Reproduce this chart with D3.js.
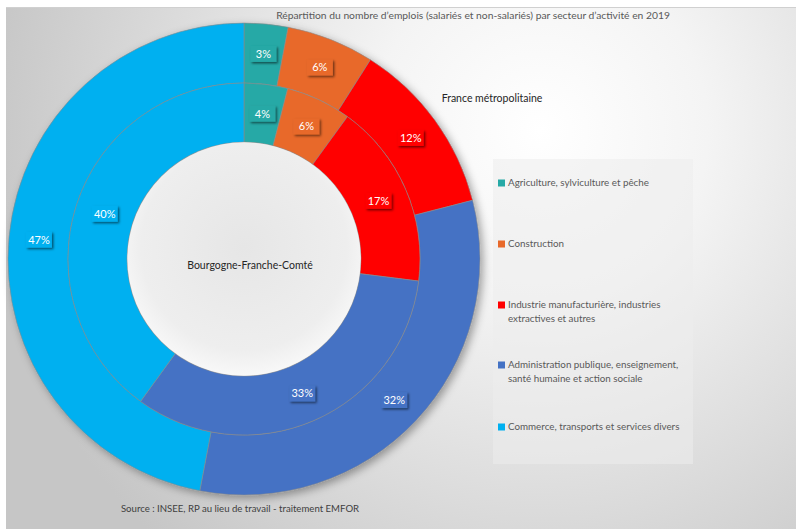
<!DOCTYPE html>
<html><head><meta charset="utf-8">
<script src="https://cdn.jsdelivr.net/npm/d3@7"></script>
<style>body{margin:0;background:#fff;}svg{display:block;font-family:Lato,"Noto Sans",sans-serif;}</style>
</head><body>
<svg id="c" width="796" height="529"></svg>
<script>
const categories = ["Agriculture, sylviculture et pêche","Construction","Industrie manufacturière, industries extractives  et autres","Administration publique, enseignement, santé humaine et action sociale","Commerce, transports et services divers"];
const legendLines = [["Agriculture, sylviculture et pêche"],["Construction"],["Industrie manufacturière, industries","extractives  et autres"],["Administration publique, enseignement,","santé humaine et action sociale"],["Commerce, transports et services divers"]];
const colors = ["#26A9A6","#E8692A","#FF0000","#4472C4","#00B0F0"];
const franceValues = [3,6,12,32,47];
const bfcValues = [4,6,17,33,40];
const title = "Répartition du nombre d\u2019emplois (salariés et non-salariés) par secteur d\u2019activité en 2019";
const outerName = "France métropolitaine";
const innerName = "Bourgogne-Franche-Comté";
const source = "Source : INSEE, RP au lieu de travail - traitement EMFOR";

const svg = d3.select("#c");
const defs = svg.append("defs");
const bg = defs.append("radialGradient").attr("id","bg").attr("gradientUnits","userSpaceOnUse")
  .attr("cx",540).attr("cy",130).attr("r",560);
bg.append("stop").attr("offset",0).attr("stop-color","#ffffff");
bg.append("stop").attr("offset",0.3).attr("stop-color","#f4f4f4");
bg.append("stop").attr("offset",1).attr("stop-color","#c6c6c6");
const hole = defs.append("radialGradient").attr("id","hole").attr("cx","50%").attr("cy","45%").attr("r","55%");
hole.append("stop").attr("offset",0).attr("stop-color","#e6e6e6");
hole.append("stop").attr("offset",0.8).attr("stop-color","#eeeeee");
hole.append("stop").attr("offset",1).attr("stop-color","#f8f8f8");
const sh = defs.append("filter").attr("id","sh").attr("x","-20%").attr("y","-20%").attr("width","140%").attr("height","140%");
sh.append("feDropShadow").attr("dx",3).attr("dy",3).attr("stdDeviation",4).attr("flood-color","#000").attr("flood-opacity",0.35);
const lsh = defs.append("filter").attr("id","lsh").attr("x","-30%").attr("y","-30%").attr("width","170%").attr("height","170%");
lsh.append("feDropShadow").attr("dx",1.5).attr("dy",1.5).attr("stdDeviation",0.8).attr("flood-color","#000").attr("flood-opacity",0.55);

svg.append("rect").attr("x",6).attr("y",7).attr("width",790).attr("height",522).attr("fill","url(#bg)");
svg.append("line").attr("x1",6).attr("x2",796).attr("y1",7.5).attr("y2",7.5).attr("stroke","#d0d0d0");

const cx = 244, cy = 259;
const rHole = 117, rMid = 176, rOut = 236;
const pie = d3.pie().sort(null).value(d=>d);
const g = svg.append("g").attr("transform",`translate(${cx},${cy})`);
const gr = g.append("g").attr("filter","url(#sh)");
const arcOut = d3.arc().innerRadius(rMid).outerRadius(rOut);
const arcIn = d3.arc().innerRadius(rHole).outerRadius(rMid);
const pO = pie(franceValues), pI = pie(bfcValues);
gr.selectAll("path.o").data(pO).join("path").attr("class","o").attr("d",arcOut)
  .attr("fill",(d,i)=>colors[i]).attr("stroke","#8c8c8c").attr("stroke-width",0.6);
gr.selectAll("path.i").data(pI).join("path").attr("class","i").attr("d",arcIn)
  .attr("fill",(d,i)=>colors[i]).attr("stroke","#8c8c8c").attr("stroke-width",0.6);
g.append("circle").attr("r",rHole-0.3).attr("fill","url(#hole)");

function labels(data, arc, cls){
  const lg = g.selectAll("g."+cls).data(data).join("g").attr("class",cls)
    .attr("transform",d=>`translate(${arc.centroid(d)})`);
  lg.append("rect").attr("x",-13).attr("y",-8).attr("width",26).attr("height",16)
    .attr("fill",(d,i)=>colors[i]).attr("filter","url(#lsh)");
  lg.append("text").attr("text-anchor","middle").attr("dy","0.36em")
    .attr("fill","#fff").attr("font-size",11).text(d=>d.data+"%");
}
labels(pO, arcOut, "lo");
labels(pI, arcIn, "li");

svg.append("text").attr("x",473).attr("y",19).attr("text-anchor","middle").attr("font-size",10.3).attr("fill","#595959").text(title);
svg.append("text").attr("x",492).attr("y",102).attr("text-anchor","middle").attr("font-size",10.5).attr("fill","#262626").text(outerName);
svg.append("text").attr("x",250).attr("y",269).attr("text-anchor","middle").attr("font-size",10.5).attr("fill","#262626").text(innerName);
svg.append("text").attr("x",240).attr("y",512).attr("text-anchor","middle").attr("font-size",9.6).attr("fill","#404040").text(source);

// legend
svg.append("rect").attr("x",493).attr("y",159).attr("width",200).attr("height",305).attr("fill","rgba(236,236,236,0.55)");
const legY = [183,244,305,365,427];
const lg = svg.selectAll("g.leg").data(categories).join("g").attr("class","leg");
lg.append("rect").attr("x",498).attr("y",(d,i)=>legY[i]-3.5).attr("width",7).attr("height",7).attr("fill",(d,i)=>colors[i]);
lg.each(function(d,i){
  const t = d3.select(this).append("text").attr("x",508).attr("y",legY[i]).attr("dy","0.35em")
    .attr("font-size",9.8).attr("fill","#595959");
  legendLines[i].forEach((l,j)=>t.append("tspan").attr("x",508).attr("dy",j===0?"0.35em":"1.35em").text(l));
});
</script>
</body></html>
